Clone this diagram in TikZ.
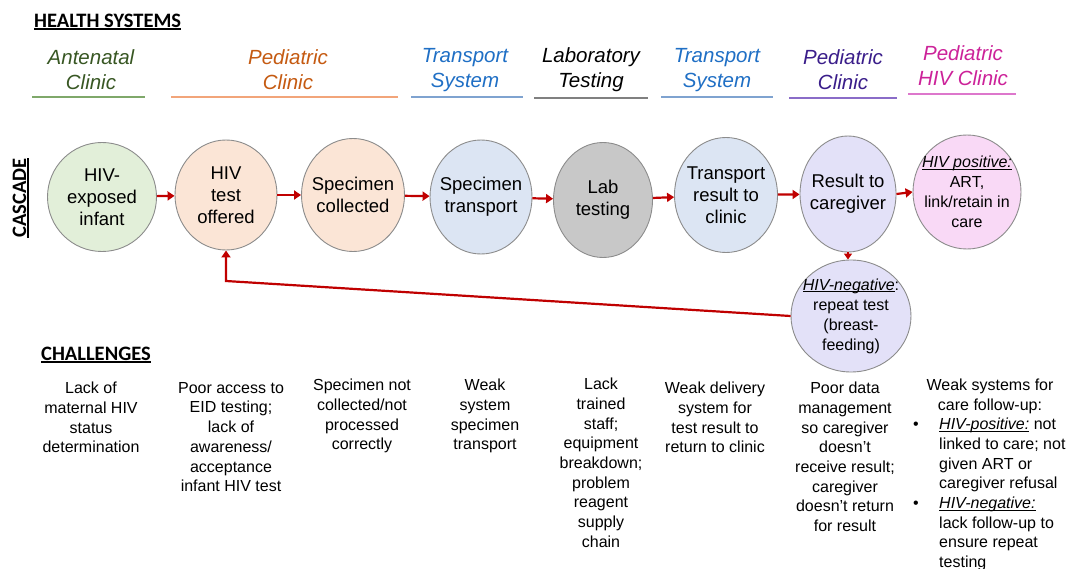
\documentclass[tikz,border=0pt]{standalone}
\usepackage{fontspec}
\setmainfont{Liberation Sans}
\newfontfamily\titlefont{Carlito}
\usetikzlibrary{shapes.geometric,arrows.meta}

\definecolor{flowred}{HTML}{C00000}
\definecolor{circborder}{HTML}{8C8C8C}
\definecolor{fillgreen}{HTML}{E2EFD9}
\definecolor{fillpeach}{HTML}{FBE5D6}
\definecolor{fillblue}{HTML}{DCE5F3}
\definecolor{fillgray}{HTML}{C8C8C8}
\definecolor{filllav}{HTML}{E3E1F8}
\definecolor{fillpink}{HTML}{F9D9F6}
\definecolor{antgreen}{HTML}{385723}
\definecolor{antline}{HTML}{7FA86A}
\definecolor{pedorange}{HTML}{C55A11}
\definecolor{pedline}{HTML}{F2A57A}
\definecolor{transblue}{HTML}{1F6FC5}
\definecolor{transline}{HTML}{7FA3D0}
\definecolor{labline}{HTML}{808080}
\definecolor{pedpurple}{HTML}{3A1D8A}
\definecolor{purpline}{HTML}{8A6CC8}
\definecolor{hivmag}{HTML}{CC2299}
\definecolor{magline}{HTML}{DD77CC}

% underline drawn close to the baseline: [thickness]{depth}{text}
\newsavebox\ulinebox
\newcommand\myuline[3][0.8pt]{\sbox\ulinebox{#3}\rlap{\rule[-#2]{\wd\ulinebox}{#1}}\usebox\ulinebox}

\begin{document}
\begin{tikzpicture}[x=1pt,y=-1pt,
  % negative inner sep lets the given minimum size fix the ellipse
  stage/.style={ellipse, draw=circborder, line width=0.9pt, align=center,
    inner sep=-40pt, font=\fontsize{18.5}{22}\selectfont},
  smallstage/.style={stage, font=\fontsize{16}{20}\selectfont},
  flow/.style={draw=flowred, line width=2.2pt,
    -{Triangle[length=7pt,width=9pt]}},
  head/.style={align=center, inner sep=0pt,
    font=\fontsize{20.5}{25}\selectfont\itshape},
  headline/.style={line width=1.6pt},
  section/.style={inner sep=0pt, font=\titlefont\bfseries\fontsize{20.5}{24}\selectfont},
  challenge/.style={anchor=north, align=center, inner sep=0pt,
    font=\fontsize{16}{19.7}\selectfont}]

\useasboundingbox (0,0) rectangle (1073,569);
\fill[white] (0,0) rectangle (1073,569);

% section titles
\node[section, anchor=west] (hs) at (34,22) {\myuline[1.8pt]{3pt}{HEALTH SYSTEMS}};
\node[section, anchor=west] (chal) at (41,355) {\myuline[1.8pt]{3pt}{CHALLENGES}};
\node[section, rotate=90] (casc) at (21,198) {\myuline[1.8pt]{3pt}{CASCADE}};

% health system headers
\node[head, text=antgreen] (h1) at (91,70) {Antenatal\\Clinic};
\node[head, text=pedorange] (h2) at (288,70) {Pediatric\\Clinic};
\node[head, text=transblue] (h3) at (465,70) {Transport\\System};
\node[head, text=black] (h4) at (591,70) {Laboratory\\Testing};
\node[head, text=transblue] (h5) at (717,70) {Transport\\System};
\node[head, text=pedpurple] (h6) at (843,70) {Pediatric\\Clinic};
\node[head, text=hivmag] (h7) at (963,66) {Pediatric\\HIV Clinic};

\draw[headline, antline] (32,97) -- (145,97);
\draw[headline, pedline] (171,97) -- (398,97);
\draw[headline, transline] (411,97) -- (523,97);
\draw[headline, labline] (534,98) -- (648,98);
\draw[headline, transline] (661,97) -- (773,97);
\draw[headline, purpline] (789,98) -- (897,98);
\draw[headline, magline] (908,94) -- (1016,94);

% cascade stages
\node[stage, fill=fillgreen, minimum width=109pt, minimum height=109pt] (c1) at (102,197) {HIV-\\exposed\\infant};
\node[stage, fill=fillpeach, minimum width=102pt, minimum height=110pt] (c2) at (226,195) {HIV\\test\\offered};
\node[stage, fill=fillpeach, minimum width=103pt, minimum height=113pt] (c3) at (353,195) {Specimen\\collected};
\node[stage, fill=fillblue, minimum width=102pt, minimum height=114pt] (c4) at (481,197) {Specimen\\transport};
\node[stage, fill=fillgray, minimum width=99pt, minimum height=115pt] (c5) at (603,200) {Lab\\testing};
\node[stage, fill=fillblue, minimum width=103pt, minimum height=115pt] (c6) at (726,195) {Transport\\result to\\clinic};
\node[stage, fill=filllav, minimum width=96pt, minimum height=116pt] (c7) at (848,194) {Result to\\caregiver};
\node[smallstage, fill=fillpink, minimum width=108pt, minimum height=114pt] (c8) at (967,192)
  {\myuline{2pt}{\textit{HIV positive:}}\\ART,\\link/retain in\\care};
\node[smallstage, fill=filllav, minimum width=120pt, minimum height=112pt] (c9) at (851,316)
  {\myuline{2pt}{\textit{HIV-negative}}:\\repeat test\\(breast-\\feeding)};

% connectors
\draw[flow] (c1) -- (c2);
\draw[flow] (c2) -- (c3);
\draw[flow] (c3) -- (c4);
\draw[flow] (c4) -- (c5);
\draw[flow] (c5) -- (c6);
\draw[flow] (c6) -- (c7);
\draw[flow] (c7.east) -- (c8.west);
\draw[flow, -{Triangle[length=6pt,width=8pt]}] (c7.south) -- (c7.south |- c9.north);
\coordinate (back) at (226,281);
\draw[flow] (c9.west) -- (back) -- (c2.south);

% challenges
\node[challenge] (k1) at (91,382) {Lack of\\maternal HIV\\status\\determination};
\node[challenge] (k2) at (231,382) {Poor access to\\EID testing;\\lack of\\awareness/\\acceptance\\infant HIV test};
\node[challenge] (k3) at (362,379) {Specimen not\\collected/not\\processed\\correctly};
\node[challenge] (k4) at (485,379) {Weak\\system\\specimen\\transport};
\node[challenge] (k5) at (601,378) {Lack\\trained\\staff;\\equipment\\breakdown;\\problem\\reagent\\supply\\chain};
\node[challenge] (k6) at (715,382) {Weak delivery\\system for\\test result to\\return to clinic};
\node[challenge] (k7) at (845,382) {Poor data\\management\\so caregiver\\doesn’t\\receive result;\\caregiver\\doesn’t return\\for result};
\node[challenge] (k8) at (990,379) {Weak systems for\\care follow-up:};
\node[challenge, anchor=north west, align=left] (k8b) at (939,418)
  {\llap{\makebox[26pt][l]{•}}\myuline{2pt}{\textit{HIV-positive:}} not\\
   linked to care; not\\given ART or\\caregiver refusal\\
   \llap{\makebox[26pt][l]{•}}\myuline{2pt}{\textit{HIV-negative:}}\\
   lack follow-up to\\ensure repeat\\testing};
\end{tikzpicture}
\end{document}
